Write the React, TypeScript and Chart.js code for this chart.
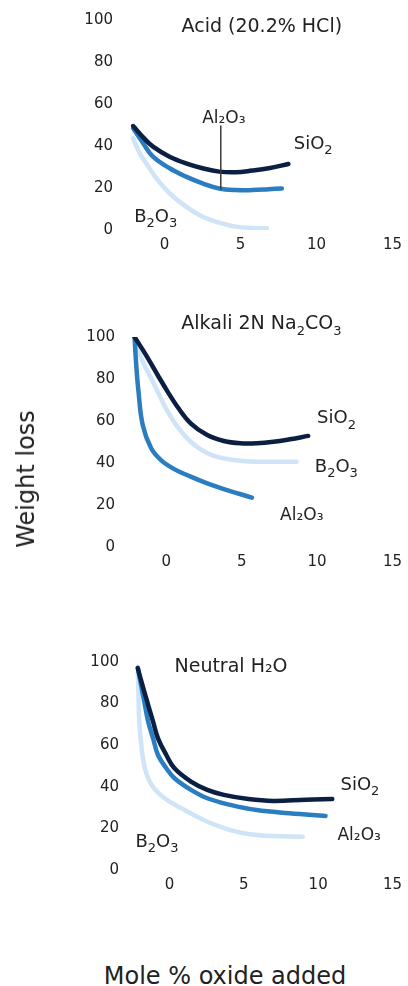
import { useEffect, useRef } from "react";
import { Chart, registerables, type ChartConfiguration, type Plugin } from "chart.js";

Chart.register(...registerables);

const SIO2_COLOR = "#0b1f42";
const AL2O3_COLOR = "#2a7dc1";
const B2O3_COLOR = "#cfe4f6";
const TEXT_COLOR = "#222222";
const FONT = "'DejaVu Sans', sans-serif";

const X_TICKS = [0, 5, 10, 15];

// Acid (20.2% HCl)
const ACID_SIO2_X = [-2.07, -1.41, -0.76, 0.33, 1.41, 2.5, 3.59, 4.68, 5.76, 6.85, 8.15];
const ACID_SIO2_Y = [49.5, 44.1, 39.7, 34.9, 31.7, 29.4, 27.8, 27.5, 28.3, 29.4, 31.4];
const ACID_AL2O3_X = [-2.07, -1.41, -0.76, 0.33, 1.41, 2.5, 3.59, 4.68, 5.76, 6.85, 7.72];
const ACID_AL2O3_Y = [48.4, 41.3, 34.9, 29.4, 25.4, 22.2, 19.8, 19.0, 19.0, 19.4, 19.8];
const ACID_B2O3_X = [-2.07, -1.63, -1.2, -0.54, 0.33, 1.41, 2.5, 3.59, 4.68, 5.76, 6.74];
const ACID_B2O3_Y = [43.7, 36.5, 31.7, 24.6, 17.5, 11.1, 6.3, 3.5, 1.6, 1.0, 0.8];
const ACID_LEADER_X = [3.7, 3.7];
const ACID_LEADER_Y = [49.5, 19.5];

// Alkali 2N Na2CO3
const ALK_SIO2_X = [-2.1, -1.34, -0.57, 0.09, 0.74, 1.62, 2.72, 3.82, 4.91, 6.01, 7.11, 8.2, 9.41];
const ALK_SIO2_Y = [100, 91.4, 81.9, 74, 66.8, 58.9, 53.3, 50.5, 49.4, 49.4, 50.1, 51.3, 52.9];
const ALK_B2O3_X = [-2.1, -1.66, -1.12, -0.57, -0.02, 0.74, 1.62, 2.72, 3.82, 4.91, 6.01, 8.64];
const ALK_B2O3_Y = [98.6, 89.9, 81.9, 74, 66, 57.3, 50.1, 44.6, 42.2, 41.1, 40.6, 40.6];
const ALK_AL2O3_X = [-2.1, -1.99, -1.84, -1.56, -1.0, -0.35, 0.53, 1.62, 2.72, 3.82, 5.68];
const ALK_AL2O3_Y = [100, 86.7, 74, 58.1, 47, 41.4, 37.1, 33.5, 30.3, 27.6, 23.5];

// Neutral H2O
const NEU_SIO2_X = [-2.14, -1.77, -1.44, -1.11, -0.78, -0.22, 0.33, 1.44, 2.54, 3.65, 5.31, 6.97, 9.18, 10.95];
const NEU_SIO2_Y = [97, 87.4, 79.3, 71.3, 63.3, 55.3, 48.9, 42.5, 38.5, 36.1, 34.1, 33.2, 33.8, 34.1];
const NEU_AL2O3_X = [-2.14, -1.88, -1.66, -1.44, -1.11, -0.78, -0.22, 0.33, 1.44, 2.54, 4.09, 5.86, 8.07, 10.5];
const NEU_AL2O3_Y = [97.3, 87.4, 79.3, 71.3, 63.3, 55.3, 48.9, 44.1, 38.5, 34.5, 31.3, 28.8, 27.3, 26];
const NEU_B2O3_X = [-2.14, -2.1, -2.04, -1.88, -1.66, -1.21, -0.33, 0.78, 2.54, 4.09, 5.42, 6.97, 8.96];
const NEU_B2O3_Y = [95.3, 87.4, 71.3, 58.5, 48.9, 40.9, 34.5, 29.7, 23.2, 19.2, 17.2, 16.3, 16];

const ACID_TITLE = "Acid (20.2% HCl)";
const ALK_TITLE = "Alkali 2N Na_2CO_3";
const NEU_TITLE = "Neutral H₂O";
const SIO2_LABEL = "SiO_2";
const B2O3_LABEL = "B_2O_3";
const AL2O3_LABEL = "Al₂O₃";

type Label = { text: string; x: number; y: number; size: number; align: "left" | "center" };
type Series = { xs: number[]; ys: number[]; color: string; width: number; smooth: boolean };
type PanelSpec = {
  top: number;
  height: number;
  areaTop: number;
  areaBottom: number;
  areaLeft: number;
  areaRight: number;
  xMin: number;
  series: Series[];
  labels: Label[];
};

function splitParts(text: string) {
  return text
    .split(/(_\d)/)
    .filter(Boolean)
    .map((s) => (s.startsWith("_") ? { t: s.slice(1), sub: true } : { t: s, sub: false }));
}

function drawRich(ctx: CanvasRenderingContext2D, lb: Label, px: number, py: number) {
  const parts = splitParts(lb.text);
  const main = `${lb.size}px ${FONT}`;
  const small = `${Math.round(lb.size * 0.7)}px ${FONT}`;
  let total = 0;
  for (const p of parts) {
    ctx.font = p.sub ? small : main;
    total += ctx.measureText(p.t).width;
  }
  let x = lb.align === "center" ? px - total / 2 : px;
  const base = py + lb.size * 0.36;
  ctx.save();
  ctx.fillStyle = TEXT_COLOR;
  ctx.textAlign = "left";
  ctx.textBaseline = "alphabetic";
  for (const p of parts) {
    ctx.font = p.sub ? small : main;
    ctx.fillText(p.t, x, p.sub ? base + lb.size * 0.3 : base);
    x += ctx.measureText(p.t).width;
  }
  ctx.restore();
}

const panelText: Plugin<"line"> = {
  id: "panelText",
  afterDatasetsDraw(chart, _args, opts: any) {
    const { ctx, scales } = chart;
    for (const lb of (opts.items ?? []) as Label[]) {
      drawRich(ctx, lb, scales.x.getPixelForValue(lb.x), scales.y.getPixelForValue(lb.y));
    }
  },
};

function Panel({ spec }: { spec: PanelSpec }) {
  const canvasRef = useRef<HTMLCanvasElement>(null);

  useEffect(() => {
    if (!canvasRef.current) return;
    const tickFont = { family: FONT, size: 15 };

    const config: ChartConfiguration<"line"> = {
      type: "line",
      data: {
        datasets: spec.series.map((s) => ({
          data: s.xs.map((x, i) => ({ x, y: s.ys[i] })),
          borderColor: s.color,
          borderWidth: s.width,
          tension: s.smooth ? 0.4 : 0,
          pointRadius: 0,
          borderCapStyle: s.smooth ? "round" : "butt",
          borderJoinStyle: "round",
          fill: false,
        })),
      },
      options: {
        responsive: false,
        animation: false,
        layout: { padding: { top: spec.areaTop, right: 408 - spec.areaRight, bottom: 0, left: 0 } },
        plugins: {
          legend: { display: false },
          tooltip: { enabled: false },
          // @ts-ignore
          panelText: { items: spec.labels },
        },
        scales: {
          x: {
            type: "linear",
            min: spec.xMin,
            max: 15,
            grid: { display: false, drawTicks: false },
            border: { display: false },
            ticks: { color: TEXT_COLOR, font: tickFont, padding: 6 },
            afterBuildTicks: (s) => {
              s.ticks = X_TICKS.map((value) => ({ value }));
            },
            afterFit: (s) => {
              s.height = spec.height - spec.areaBottom;
            },
          },
          y: {
            type: "linear",
            min: 0,
            max: 100,
            grid: { display: false, drawTicks: false },
            border: { display: false },
            ticks: { stepSize: 20, color: TEXT_COLOR, font: tickFont, padding: 6 },
            afterFit: (s) => {
              s.width = spec.areaLeft;
            },
          },
        },
      },
      plugins: [panelText],
    };

    const chart = new Chart(canvasRef.current, config);
    return () => chart.destroy();
  }, [spec]);

  return (
    <canvas
      ref={canvasRef}
      width={408}
      height={spec.height}
      style={{ position: "absolute", left: 0, top: spec.top, display: "block" }}
    />
  );
}

const curve = (xs: number[], ys: number[], color: string): Series => ({ xs, ys, color, width: 4.5, smooth: true });

const PANELS: PanelSpec[] = [
  {
    top: 0,
    height: 262,
    areaTop: 20,
    areaBottom: 230,
    areaLeft: 119,
    areaRight: 395,
    xMin: -3,
    series: [
      { xs: ACID_LEADER_X, ys: ACID_LEADER_Y, color: "#3a3a3a", width: 1.5, smooth: false },
      curve(ACID_SIO2_X, ACID_SIO2_Y, SIO2_COLOR),
      curve(ACID_AL2O3_X, ACID_AL2O3_Y, AL2O3_COLOR),
      curve(ACID_B2O3_X, ACID_B2O3_Y, B2O3_COLOR),
    ],
    labels: [
      { text: ACID_TITLE, x: 6.4, y: 97.6, size: 19, align: "center" },
      { text: AL2O3_LABEL, x: 3.9, y: 54, size: 17, align: "center" },
      { text: SIO2_LABEL, x: 8.5, y: 41.7, size: 18, align: "left" },
      { text: B2O3_LABEL, x: -2.0, y: 7.1, size: 18, align: "left" },
    ],
  },
  {
    top: 300,
    height: 280,
    areaTop: 37,
    areaBottom: 247,
    areaLeft: 121,
    areaRight: 395,
    xMin: -3,
    series: [
      curve(ALK_SIO2_X, ALK_SIO2_Y, SIO2_COLOR),
      curve(ALK_AL2O3_X, ALK_AL2O3_Y, AL2O3_COLOR),
      curve(ALK_B2O3_X, ALK_B2O3_Y, B2O3_COLOR),
    ],
    labels: [
      { text: ALK_TITLE, x: 1.0, y: 107, size: 19, align: "left" },
      { text: SIO2_LABEL, x: 10.0, y: 62, size: 18, align: "left" },
      { text: B2O3_LABEL, x: 9.85, y: 39, size: 18, align: "left" },
      { text: AL2O3_LABEL, x: 7.55, y: 16, size: 17, align: "left" },
    ],
  },
  {
    top: 630,
    height: 290,
    areaTop: 32,
    areaBottom: 240,
    areaLeft: 125,
    areaRight: 396,
    xMin: -3,
    series: [
      curve(NEU_SIO2_X, NEU_SIO2_Y, SIO2_COLOR),
      curve(NEU_AL2O3_X, NEU_AL2O3_Y, AL2O3_COLOR),
      curve(NEU_B2O3_X, NEU_B2O3_Y, B2O3_COLOR),
    ],
    labels: [
      { text: NEU_TITLE, x: 0.33, y: 98.6, size: 19, align: "left" },
      { text: SIO2_LABEL, x: 11.5, y: 41.7, size: 18, align: "left" },
      { text: AL2O3_LABEL, x: 11.3, y: 17.6, size: 17, align: "left" },
      { text: B2O3_LABEL, x: -2.3, y: 14.4, size: 18, align: "left" },
    ],
  },
];

export default function App() {
  return (
    <div
      style={{
        position: "absolute",
        left: 0,
        top: 0,
        width: 408,
        height: 986,
        background: "#ffffff",
        fontFamily: FONT,
        color: TEXT_COLOR,
      }}
    >
      {PANELS.map((p, i) => (
        <Panel key={i} spec={p} />
      ))}
      <div
        style={{
          position: "absolute",
          left: 26,
          top: 479,
          transform: "translate(-50%, -50%) rotate(-90deg)",
          fontSize: 24,
          whiteSpace: "nowrap",
        }}
      >
        Weight loss
      </div>
      <div
        style={{
          position: "absolute",
          left: 225,
          top: 976,
          transform: "translate(-50%, -50%)",
          fontSize: 24,
          whiteSpace: "nowrap",
        }}
      >
        Mole % oxide added
      </div>
    </div>
  );
}
